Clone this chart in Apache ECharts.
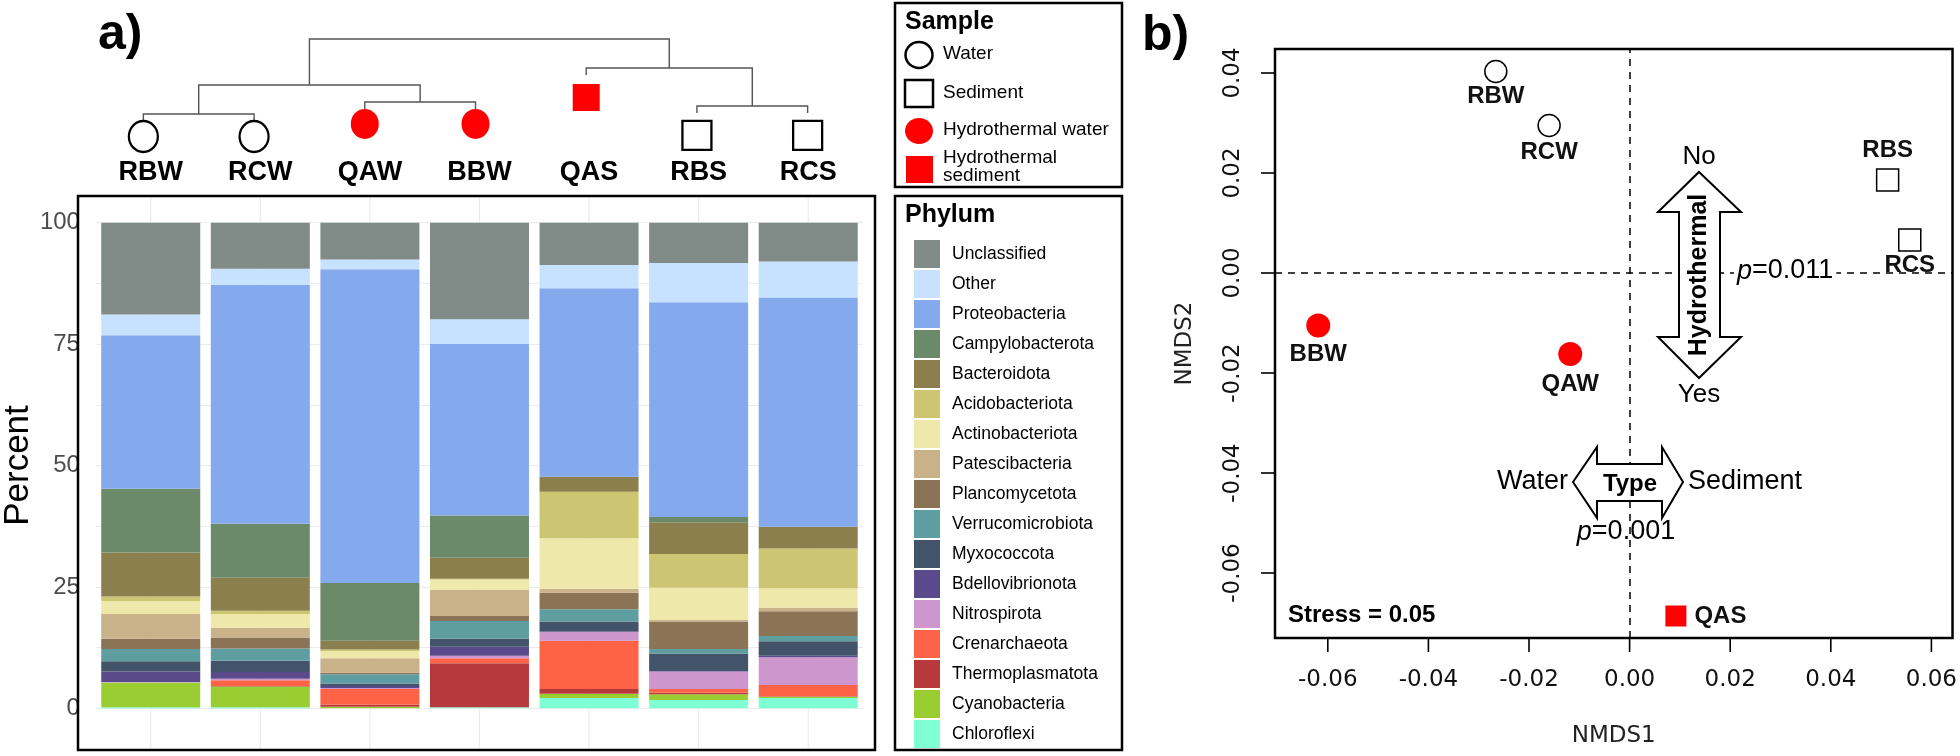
<!DOCTYPE html>
<html><head><meta charset="utf-8">
<script src="https://cdn.jsdelivr.net/npm/echarts@6/dist/echarts.min.js"></script>
<style>html,body{margin:0;padding:0;background:#fff}#c{width:1960px;height:756px}</style>
</head><body><div id="c"></div>
<script>
// ---------- data ----------
const samples = ['RBW','RCW','QAW','BBW','QAS','RBS','RCS'];
const sampleType = ['Water','Water','Hydrothermal water','Hydrothermal water','Hydrothermal sediment','Sediment','Sediment'];
const percentTicks = [0,25,50,75,100];
const phyla = ['Unclassified','Other','Proteobacteria','Campylobacterota','Bacteroidota','Acidobacteriota','Actinobacteriota','Patescibacteria','Plancomycetota','Verrucomicrobiota','Myxococcota','Bdellovibrionota','Nitrospirota','Crenarchaeota','Thermoplasmatota','Cyanobacteria','Chloroflexi'];
const unclassified      = [18.9, 9.5, 7.6, 19.9, 8.7, 8.3, 8.0];
const other             = [4.3, 3.3, 2.0, 5.1, 4.8, 8.1, 7.4];
const proteobacteria    = [31.6, 49.2, 64.6, 35.3, 38.8, 44.2, 47.2];
const campylobacterota  = [13.1, 11.1, 11.9, 8.7, 0, 1.1, 0];
const bacteroidota      = [9.1, 6.8, 1.8, 4.3, 3.1, 6.5, 4.5];
const acidobacteriota   = [0.9, 0.7, 0.3, 0.2, 9.6, 7.0, 8.2];
const actinobacteriota  = [2.7, 2.8, 1.5, 2.1, 10.4, 6.6, 4.0];
const patescibacteria   = [5.1, 2.0, 3.0, 5.4, 0.8, 0.3, 0.7];
const plancomycetota    = [2.1, 2.3, 0.3, 1.0, 3.4, 5.7, 5.1];
const verrucomicrobiota = [2.5, 2.5, 1.9, 3.7, 2.5, 0.9, 1.1];
const myxococcota       = [2.1, 2.3, 0.5, 1.6, 2.1, 3.6, 3.0];
const bdellovibrionota  = [2.2, 1.4, 0.4, 1.9, 0.1, 0.1, 0.3];
const nitrospirota      = [0.1, 0.3, 0.2, 0.5, 1.8, 3.6, 5.7];
const crenarchaeota     = [0, 1.2, 3.2, 1.0, 9.9, 0.8, 2.3];
const thermoplasmatota  = [0, 0.1, 0.5, 9.1, 1.0, 0.3, 0.1];
const cyanobacteria     = [5.1, 4.3, 0.3, 0, 0.9, 1.2, 0.3];
const chloroflexi       = [0.2, 0.2, 0, 0.2, 2.1, 1.7, 2.1];

const nmds1 = [-0.0266, -0.0160, -0.0118, -0.0619, 0.0092, 0.0513, 0.0557];
const nmds2 = [0.0403, 0.0295, -0.0162, -0.0105, -0.0686, 0.0186, 0.0066];
const nmdsTicks = [-0.06, -0.04, -0.02, 0, 0.02, 0.04, 0.06];

// dendrogram merges: [left child, right child, merge height]; numbers = leaf index, 'mK' = merge K
const dendroMerges = [[0,1,0.085],[2,3,0.232],[5,6,0.183],['m0','m1',0.439],[4,'m2',0.646],['m3','m4',1.0]];
const dendroLeg = 0.085;

// ---------- styles ----------
const phylumValues = {Unclassified:unclassified, Other:other, Proteobacteria:proteobacteria, Campylobacterota:campylobacterota, Bacteroidota:bacteroidota, Acidobacteriota:acidobacteriota, Actinobacteriota:actinobacteriota, Patescibacteria:patescibacteria, Plancomycetota:plancomycetota, Verrucomicrobiota:verrucomicrobiota, Myxococcota:myxococcota, Bdellovibrionota:bdellovibrionota, Nitrospirota:nitrospirota, Crenarchaeota:crenarchaeota, Thermoplasmatota:thermoplasmatota, Cyanobacteria:cyanobacteria, Chloroflexi:chloroflexi};
const phylumColors = {Unclassified:'#808a87', Other:'#c6e2ff', Proteobacteria:'#84a9ed', Campylobacterota:'#6a8a69', Bacteroidota:'#8b804d', Acidobacteriota:'#ccc673', Actinobacteriota:'#eee8aa', Patescibacteria:'#c9b18a', Plancomycetota:'#8b7355', Verrucomicrobiota:'#5f9ea0', Myxococcota:'#435369', Bdellovibrionota:'#5b4a8b', Nitrospirota:'#cd96cd', Crenarchaeota:'#ff6347', Thermoplasmatota:'#b8393b', Cyanobacteria:'#9acd32', Chloroflexi:'#7fffd4'};
const AR = '"Liberation Sans", Arial, sans-serif';
const DJ = '"DejaVu Sans", sans-serif';
const typeStyle = {
  'Water': {symbol:'circle', dsize:[29,31], bsize:22, fill:'#fff', border:'#000', gap:0},
  'Hydrothermal water': {symbol:'circle', dsize:[28,30], bsize:24, fill:'#ff0000', border:'#ff0000', gap:0},
  'Sediment': {symbol:'rect', dsize:[29,29], bsize:22, fill:'#fff', border:'#000', gap:8},
  'Hydrothermal sediment': {symbol:'rect', dsize:[27,27], bsize:21, fill:'#ff0000', border:'#ff0000', gap:9}
};
const labelPlace = {RBW:['bottom',1], RCW:['bottom',3], QAW:['bottom',6], BBW:['bottom',5], QAS:['right',8], RBS:['top',6], RCS:['bottom',2]};
const tickLen = 14;
const nmdsGrid = {left:1275, top:49, width:678, height:589};

// ---------- dendrogram geometry from merges ----------
const mergeX = [], mergeH = [], leafBottom = [];
const dendroRows = dendroMerges.map(([a,b,h],k) => {
  const pos = c => {
    if (typeof c === 'number') { leafBottom[c] = h - dendroLeg; return [c, h - dendroLeg]; }
    const j = +c.slice(1); return [mergeX[j], mergeH[j]];
  };
  const [xa, ba] = pos(a), [xb, bb] = pos(b);
  mergeX[k] = (xa + xb) / 2; mergeH[k] = h;
  return [xa, xb, h, ba, bb];
});
const dendroPxPerUnit = 82;

const chart = echarts.init(document.getElementById('c'), null, {renderer:'canvas'});

const series = [];
// vertical gridlines at category centres (panel a)
series.push({
  type:'custom', xAxisIndex:0, yAxisIndex:0, z:1, silent:true, clip:false,
  data: samples.map((s,i)=>[i]),
  renderItem:(params, api) => {
    const top = api.coord([api.value(0), 105.5]);
    const bot = api.coord([api.value(0), -8.6]);
    return {type:'line', shape:{x1:top[0], y1:top[1], x2:bot[0], y2:bot[1]}, style:{stroke:'#ebebeb', lineWidth:1.2}};
  }
});
// stacked bars, bottom phylum first
phyla.slice().reverse().forEach(p => {
  series.push({
    type:'bar', name:p, stack:'total', xAxisIndex:0, yAxisIndex:0, barWidth:99, z:2,
    data: phylumValues[p], itemStyle:{color:phylumColors[p]}, emphasis:{disabled:true}, silent:true
  });
});
// dendrogram
series.push({
  type:'custom', xAxisIndex:3, yAxisIndex:2, silent:true, clip:false,
  data: dendroRows,
  renderItem:(params, api) => {
    const pts = [
      api.coord([api.value(0), api.value(3)]),
      api.coord([api.value(0), api.value(2)]),
      api.coord([api.value(1), api.value(2)]),
      api.coord([api.value(1), api.value(4)])
    ];
    return {type:'polyline', shape:{points:pts}, style:{stroke:'#555', lineWidth:1.4, fill:null}};
  }
});
// dendrogram leaf markers + NMDS points, one series per sample type
Object.keys(typeStyle).forEach(t => {
  const st = typeStyle[t];
  const idx = samples.map((s,i)=>i).filter(i => sampleType[i] === t);
  series.push({
    type:'scatter', name:t, xAxisIndex:3, yAxisIndex:2, symbol:st.symbol, symbolSize:st.dsize, silent:true,
    itemStyle:{color:st.fill, borderColor:st.border, borderWidth: st.fill === '#fff' ? 2.3 : 0, opacity:1},
    data: idx.map(i => [i, leafBottom[i] - (st.dsize[1]/2 + st.gap)/dendroPxPerUnit])
  });
  series.push({
    type:'scatter', name:t, xAxisIndex:2, yAxisIndex:1, symbol:st.symbol, symbolSize:st.bsize, silent:true, z:5,
    itemStyle:{color:st.fill, borderColor:st.border, borderWidth: st.fill === '#fff' ? 1.5 : 0, opacity:1},
    data: idx.map(i => ({
      value:[nmds1[i], nmds2[i]], name:samples[i],
      label:{show:true, formatter:samples[i], position:labelPlace[samples[i]][0], distance:labelPlace[samples[i]][1],
        fontFamily:AR, fontWeight:'bold', fontSize:24, color:'#111'}
    }))
  });
});
// dashed zero lines in NMDS
series.push({
  type:'scatter', xAxisIndex:2, yAxisIndex:1, data:[], silent:true,
  markLine:{silent:true, symbol:['none','none'], label:{show:false},
    lineStyle:{type:[7,6], color:'#000', width:1.5},
    data:[{xAxis:0},{yAxis:0}]}
});

const txt = (x,y,text,font,opts={}) => Object.assign({type:'text', x, y, z:100, style:Object.assign({text, font, fill:'#000', textAlign:'left', textVerticalAlign:'middle', align:'left', verticalAlign:'middle'}, opts.style||{})}, opts.el||{});
const C = {textAlign:'center', align:'center'};
const R = {textAlign:'right', align:'right'};
const pRich = (rest) => ({text:'{i|p}{n|' + rest + '}', rich:{i:{fontStyle:'italic', fontSize:27, fontFamily:AR, fill:'#000'}, n:{fontSize:27, fontFamily:AR, fill:'#000'}}});

const graphic = [
  // panel a frame
  {type:'rect', z:100, shape:{x:78, y:196, width:797, height:554}, style:{fill:null, stroke:'#000', lineWidth:2.5}},
  txt(98, 35, 'a)', 'bold 50px ' + AR),
  txt(1142, 36, 'b)', 'bold 50px ' + AR),
  // sample legend
  {type:'rect', z:100, shape:{x:895, y:3, width:227, height:184}, style:{fill:null, stroke:'#000', lineWidth:2.5}},
  txt(905, 22, 'Sample', 'bold 25px ' + AR),
  {type:'ellipse', z:100, shape:{cx:919, cy:55, rx:13.5, ry:13}, style:{fill:'#fff', stroke:'#000', lineWidth:2.5}},
  txt(943, 54, 'Water', '19px ' + AR),
  {type:'rect', z:100, shape:{x:905, y:80, width:28, height:27}, style:{fill:'#fff', stroke:'#000', lineWidth:2.5}},
  txt(943, 93, 'Sediment', '19px ' + AR),
  {type:'ellipse', z:100, shape:{cx:919, cy:131, rx:14, ry:13}, style:{fill:'#ff0000', stroke:null}},
  txt(943, 130, 'Hydrothermal water', '19px ' + AR),
  {type:'rect', z:100, shape:{x:906, y:156, width:27, height:27}, style:{fill:'#ff0000', stroke:null}},
  txt(943, 167, 'Hydrothermal\nsediment', '19px ' + AR, {style:{lineHeight:18}}),
  // phylum legend frame
  {type:'rect', z:100, shape:{x:895, y:196, width:227, height:554}, style:{fill:null, stroke:'#000', lineWidth:2.5}},
  txt(905, 215, 'Phylum', 'bold 25px ' + AR),
  // NMDS annotations
  {type:'polygon', z:100, shape:{points:[[1699,172],[1741,212],[1720,212],[1720,337],[1741,337],[1699,378],[1658,337],[1679,337],[1679,212],[1658,212]]}, style:{fill:'#fff', stroke:'#000', lineWidth:2}},
  txt(1699, 275, 'Hydrothermal', 'bold 25px ' + AR, {style:C, el:{rotation:Math.PI/2}}),
  txt(1699, 157, 'No', '26px ' + AR, {style:C}),
  txt(1699, 395, 'Yes', '26px ' + AR, {style:C}),
  {type:'text', x:1734, y:271, z:100, style:Object.assign(pRich('=0.011'), {backgroundColor:'#fff', padding:[0,3,0,3], textVerticalAlign:'middle', verticalAlign:'middle'})},
  {type:'polygon', z:100, shape:{points:[[1573,482],[1597,447],[1597,464],[1662,464],[1662,447],[1683,482],[1662,518],[1662,501],[1597,501],[1597,518]]}, style:{fill:'#fff', stroke:'#000', lineWidth:2}},
  txt(1630, 484, 'Type', 'bold 24px ' + AR, {style:C}),
  txt(1568, 482, 'Water', '27px ' + AR, {style:R}),
  txt(1688, 482, 'Sediment', '27px ' + AR),
  {type:'text', x:1626, y:532, z:100, style:Object.assign(pRich('=0.001'), {textAlign:'center', align:'center', textVerticalAlign:'middle', verticalAlign:'middle'})},
  txt(1288, 615, 'Stress = 0.05', 'bold 24px ' + AR)
];

const option = {
  animation:false,
  backgroundColor:'#fff',
  grid:[
    {left:88, width:775, top:222.7, height:485.6},
    Object.assign({show:true, borderColor:'#000', borderWidth:2.5, backgroundColor:'transparent'}, nmdsGrid),
    {left:88, width:775, top:39, height:123}
  ],
  xAxis:[
    {type:'category', gridIndex:0, data:samples, position:'bottom', axisLine:{show:false}, axisTick:{show:false}, axisLabel:{show:false}, splitLine:{show:false}},
    {type:'category', gridIndex:0, data:samples, position:'top', axisLine:{show:false}, axisTick:{show:false}, splitLine:{show:false},
      axisLabel:{margin:37, fontFamily:'"Liberation Sans Narrow", "Liberation Sans", Arial', fontWeight:'bold', fontSize:27, color:'#000'}},
    {type:'value', gridIndex:1, min:-0.0705, max:0.0642, position:'bottom', axisLine:{show:false, onZero:false}, splitLine:{show:false},
      axisTick:{show:false},
      axisLabel:{customValues:nmdsTicks, margin:31, fontFamily:DJ, fontSize:23, color:'#111', formatter:v=>v.toFixed(2)},
      name:'NMDS1', nameLocation:'middle', nameGap:87, nameTextStyle:{fontFamily:DJ, fontSize:23, color:'#222'}},
    {type:'value', gridIndex:2, min:-0.5, max:6.5, show:false}
  ],
  yAxis:[
    {type:'value', gridIndex:0, min:0, max:100, interval:12.5, axisLine:{show:false}, axisTick:{show:false},
      splitLine:{show:true, lineStyle:{color:'#ebebeb', width:1.2}},
      axisLabel:{margin:16, fontFamily:AR, fontSize:24, color:'#4d4d4d', formatter:v => percentTicks.includes(v) ? String(v) : ''},
      name:'Percent', nameLocation:'middle', nameGap:52, nameTextStyle:{fontFamily:AR, fontSize:35, color:'#000'}},
    {type:'value', gridIndex:1, min:-0.073, max:0.0448, position:'left', axisLine:{show:false, onZero:false}, splitLine:{show:false},
      axisTick:{show:false},
      axisLabel:{customValues:nmdsTicks, rotate:90, margin:30, fontFamily:DJ, fontSize:23, color:'#111', formatter:v=>v.toFixed(2)},
      name:'NMDS2', nameLocation:'middle', nameGap:78, nameTextStyle:{fontFamily:DJ, fontSize:23, color:'#222'}},
    {type:'value', gridIndex:2, min:-0.5, max:1, show:false}
  ],
  legend:{
    data:phyla, orient:'vertical', left:909, top:235, itemWidth:26, itemHeight:28, itemGap:2, icon:'rect', selectedMode:false,
    textStyle:{fontFamily:AR, fontSize:17.5, color:'#000', padding:[0,0,0,7]}
  },
  graphic:graphic,
  series:series
};
chart.setOption(option);

// outward tick marks on the NMDS box, positioned through the axis scales
const boxBottom = nmdsGrid.top + nmdsGrid.height, boxLeft = nmdsGrid.left;
const tickEls = [];
nmdsTicks.forEach(v => {
  const xp = chart.convertToPixel({xAxisIndex:2}, v);
  const yp = chart.convertToPixel({yAxisIndex:1}, v);
  tickEls.push({type:'line', z:100, shape:{x1:xp, y1:boxBottom, x2:xp, y2:boxBottom + tickLen}, style:{stroke:'#000', lineWidth:1.6}});
  if (yp >= nmdsGrid.top && yp <= boxBottom) {
    tickEls.push({type:'line', z:100, shape:{x1:boxLeft, y1:yp, x2:boxLeft - tickLen, y2:yp}, style:{stroke:'#000', lineWidth:1.6}});
  }
});
chart.setOption({graphic: graphic.concat(tickEls)});
</script></body></html>
